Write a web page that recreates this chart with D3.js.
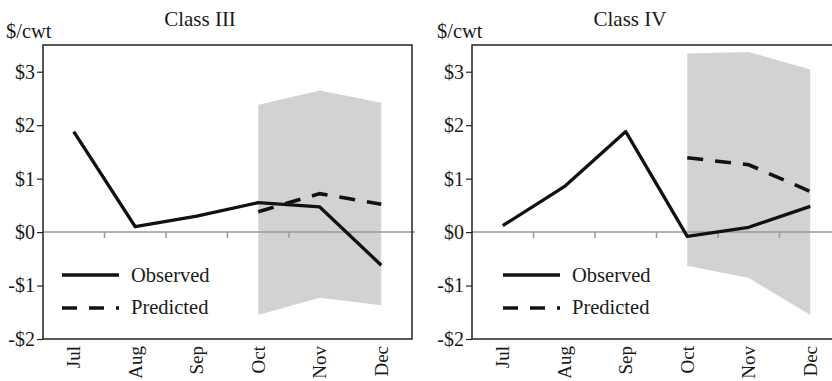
<!DOCTYPE html>
<html><head><meta charset="utf-8">
<script src="https://cdn.jsdelivr.net/npm/d3@7/dist/d3.min.js"></script>
<style>
body{margin:0;background:#fff;}
text{font-family:"Liberation Serif","Times New Roman",serif;fill:#1a1a1a;}
</style></head>
<body><svg id="chart" width="832" height="381"></svg>
<script>
const months = ["Jul","Aug","Sep","Oct","Nov","Dec"];
const predMonths = ["Oct","Nov","Dec"];
const yTicks = [3,2,1,0,-1,-2];
const tickLabels = ["$3","$2","$1","$0","-$1","-$2"];

const class3Observed = [1.88, 0.10, 0.30, 0.55, 0.47, -0.62];
const class3Predicted = [0.38, 0.72, 0.52];
const class3Upper = [2.38, 2.65, 2.42];
const class3Lower = [-1.55, -1.23, -1.37];

const class4Observed = [0.12, 0.85, 1.88, -0.08, 0.09, 0.48];
const class4Predicted = [1.39, 1.26, 0.76];
const class4Upper = [3.34, 3.37, 3.04];
const class4Lower = [-0.63, -0.86, -1.55];

const panels = [
  {title:"Class III", obs:class3Observed, pred:class3Predicted, up:class3Upper, lo:class3Lower,
   left:43, titleX:200, unitX:6, legX:62},
  {title:"Class IV", obs:class4Observed, pred:class4Predicted, up:class4Upper, lo:class4Lower,
   left:472, titleX:630, unitX:437, legX:503}
];

const svg = d3.select("#chart");
const W = 369, plotTop = 45, plotBottom = 339;
const y = d3.scaleLinear().domain([-2, 3.5]).range([plotBottom, plotTop]);

panels.forEach(p => {
  const x = d3.scaleBand().domain(months).range([p.left, p.left + W]);
  const cx = m => x(m) + x.bandwidth()/2;
  const g = svg.append("g");

  // confidence band
  const band = predMonths.map((m,i)=>({m, up:p.up[i], lo:p.lo[i]}));
  g.append("path").datum(band)
    .attr("d", d3.area().x(d=>cx(d.m)).y0(d=>y(d.lo)).y1(d=>y(d.up)))
    .attr("fill", "#d2d2d2");

  // zero line
  g.append("line").attr("x1", p.left).attr("x2", p.left + W + 3)
    .attr("y1", y(0)).attr("y2", y(0)).attr("stroke", "#9a9a9a").attr("stroke-width", 1.5);
  // category boundary ticks on zero line
  g.selectAll(".zt").data(months.slice(1)).enter().append("line")
    .attr("x1", d=>x(d)).attr("x2", d=>x(d))
    .attr("y1", y(0)).attr("y2", y(0)+6)
    .attr("stroke", "#9a9a9a").attr("stroke-width", 1.5);

  // frame
  g.append("rect").attr("x", p.left).attr("y", plotTop).attr("width", W).attr("height", plotBottom-plotTop)
    .attr("fill","none").attr("stroke","#222").attr("stroke-width",1.5);

  // y axis
  const ya = d3.axisLeft(y).tickValues(yTicks).tickSize(6).tickPadding(2)
    .tickFormat(d=>tickLabels[yTicks.indexOf(d)]);
  const yg = g.append("g").attr("transform",`translate(${p.left},0)`).call(ya);
  yg.select(".domain").remove();
  yg.selectAll("line").attr("stroke","#222").attr("stroke-width",1.2);
  yg.selectAll("text").attr("font-size",20).attr("font-family","Liberation Serif").attr("fill","#1a1a1a");

  // x axis labels
  const xa = d3.axisBottom(x).tickSize(0).tickPadding(0);
  const xg = g.append("g").attr("transform",`translate(0,${plotBottom})`).call(xa);
  xg.select(".domain").remove();
  xg.selectAll("text").attr("font-size",19).attr("font-family","Liberation Serif").attr("fill","#1a1a1a")
    .attr("text-anchor","end").attr("transform","rotate(-90)")
    .attr("x",-7).attr("y",0).attr("dy","0.35em");

  // observed
  g.append("path").datum(months.map((m,i)=>({m, v:p.obs[i]})))
    .attr("d", d3.line().x(d=>cx(d.m)).y(d=>y(d.v)))
    .attr("fill","none").attr("stroke","#111").attr("stroke-width",3.3).attr("stroke-linejoin","round");
  // predicted
  g.append("path").datum(predMonths.map((m,i)=>({m, v:p.pred[i]})))
    .attr("d", d3.line().x(d=>cx(d.m)).y(d=>y(d.v)))
    .attr("fill","none").attr("stroke","#111").attr("stroke-width",3.6).attr("stroke-dasharray","16,12");

  // titles
  g.append("text").attr("x", p.titleX).attr("y", 26).attr("text-anchor","middle")
    .attr("font-size",21).text(p.title);
  g.append("text").attr("x", p.unitX).attr("y", 38).attr("font-size",20.5).text("$/cwt");

  // legend
  g.append("line").attr("x1",p.legX).attr("x2",p.legX+57).attr("y1",275).attr("y2",275)
    .attr("stroke","#111").attr("stroke-width",3.5);
  g.append("text").attr("x",p.legX+69).attr("y",282).attr("font-size",20.5).text("Observed");
  g.append("line").attr("x1",p.legX).attr("x2",p.legX+57).attr("y1",308).attr("y2",308)
    .attr("stroke","#111").attr("stroke-width",3.5).attr("stroke-dasharray","15,12");
  g.append("text").attr("x",p.legX+69).attr("y",314).attr("font-size",20.5).text("Predicted");
});
</script></body></html>
